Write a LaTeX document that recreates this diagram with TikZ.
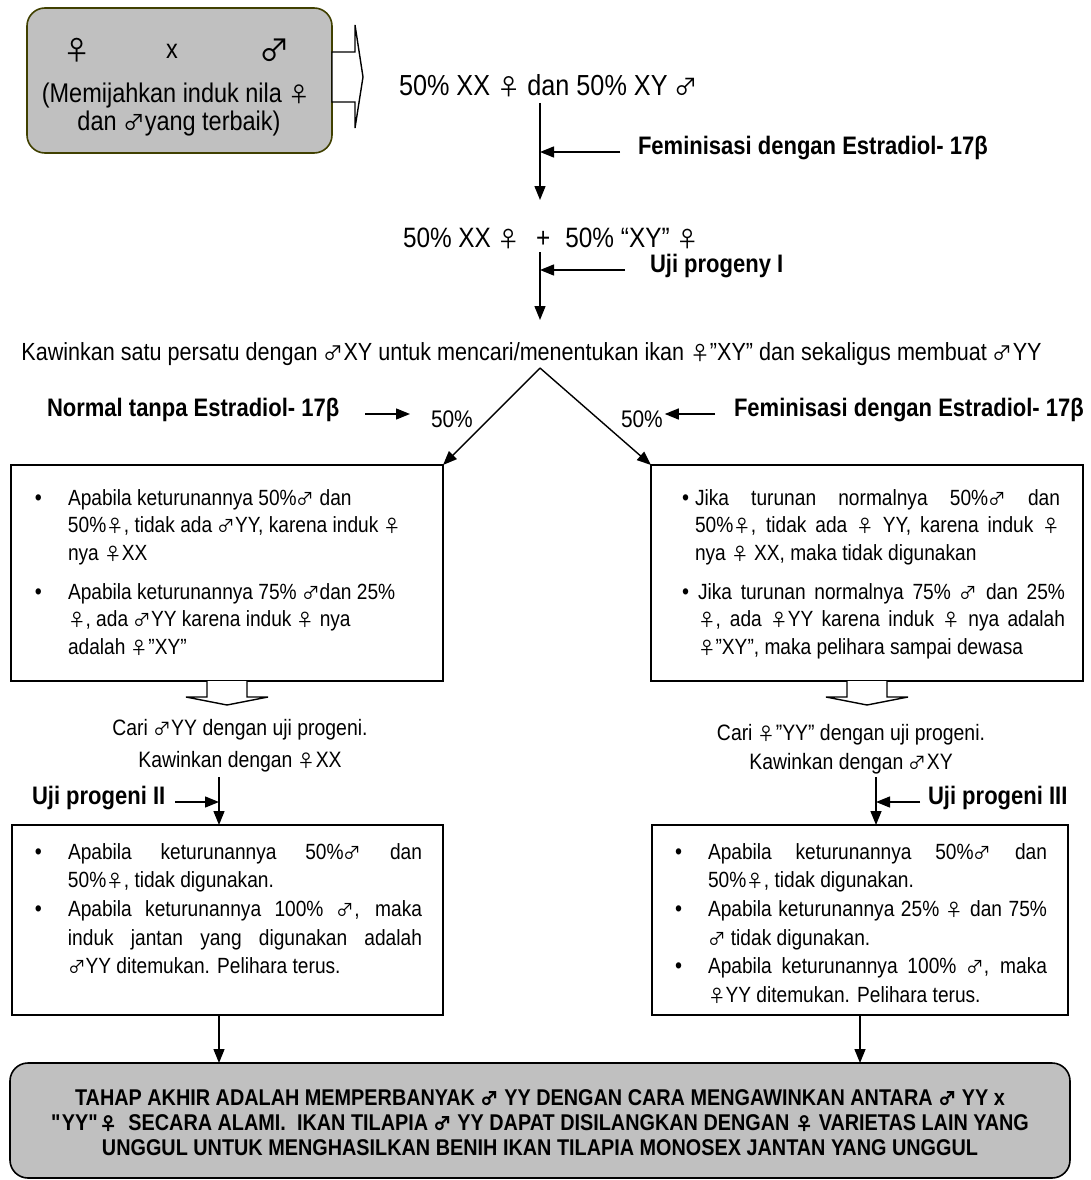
\documentclass[tikz,border=0pt]{standalone}
\usepackage{fontspec}
\setmainfont{Liberation Sans}[FakeStretch=0.87]
\newfontfamily\symf{Noto Sans CJK SC}[Scale=0.8]
\usetikzlibrary{arrows.meta,calc}
\newcommand{\fe}{{\symf ♀}}
\newcommand{\ma}{{\symf ♂}}
\newcommand{\sq}{\XeTeXglyph\XeTeXcharglyph"22\relax}
\newcommand{\jl}[1]{\makebox[\hsize][s]{\spaceskip=0pt\xspaceskip=0pt #1}}
\newcommand{\bul}[1]{\leavevmode\llap{{\fontsize{23}{23}\selectfont •}\hspace{#1}}}
\definecolor{boxgray}{RGB}{192,192,192}
\definecolor{olivedark}{RGB}{64,64,0}
\begin{document}
\begin{tikzpicture}[x=1pt,y=-1pt,
  every node/.style={inner sep=0pt, outer sep=0pt},
  frame/.style={draw=black, line width=1.6pt},
  big/.style={font=\fontsize{28}{30}\selectfont},
  lbl/.style={font=\bfseries\fontsize{25.3}{28}\selectfont},
  body/.style={font=\fontsize{22}{27.5}\selectfont, align=justify},
  cari/.style={font=\fontsize{22.3}{26}\selectfont},
  fin/.style={font=\bfseries\fontsize{22.8}{25}\selectfont, anchor=base},
  arr/.style={line width=1.4pt, -{Triangle[length=14pt,width=11pt]}},
  hollow/.style={draw=black, fill=white, line width=1.4pt, line join=miter},
]
\useasboundingbox (0,0) rectangle (1090,1180);

% ---------- top box ----------
\node[frame, draw=olivedark, fill=boxgray, rounded corners=18pt,
      minimum width=305pt, minimum height=145pt] (top) at (179.5,80.5) {};
\node[font=\fontsize{34}{34}\selectfont, anchor=base] (tfe) at (77,61) {\fe};
\node[font=\fontsize{27}{28}\selectfont, anchor=base] (tx) at (172,59) {x};
\node[font=\fontsize{38}{38}\selectfont, anchor=base] (tma) at (275,62) {\ma};
\node[font=\fontsize{27}{28}\selectfont, anchor=base] (tl2) at (176,103) {(Memijahkan induk nila \fe};
\node[font=\fontsize{27}{28}\selectfont, anchor=base] (tl3) at (179,131) {dan \ma yang terbaik)};
\draw[hollow] (top.east |- 0,52) -- (355,52) -- (355,25) -- (363,77) -- (355,128)
   -- (355,102) -- (top.east |- 0,102) -- cycle;

% ---------- central column ----------
\coordinate (mx) at (540,0);
\node[font=\fontsize{29}{30}\selectfont, anchor=base west] (t1) at (399,96) {50\% XX \fe{} dan 50\% XY \ma};
\coordinate (a1s) at (540,103);
\coordinate (a1e) at (540,200);
\draw[arr] (a1s) -- (a1e);
\node[lbl, anchor=mid west] (l1) at (638,152) {Feminisasi dengan Estradiol- 17β};
\draw[arr] ([xshift=-18pt]l1.mid west) -- (l1.mid west -| mx);

\node[big, anchor=base west] (t2) at (403,247) {50\% XX \fe\hspace{16pt}+\hspace{15pt}50\% “XY” \fe};
\coordinate (a2s) at (540,252);
\coordinate (a2e) at (540,320);
\draw[arr] (a2s) -- (a2e);
\node[lbl, anchor=mid west] (l2) at (650,270) {Uji progeny I};
\draw[arr] ([xshift=-25pt]l2.mid west) -- (l2.mid west -| mx);

\node[font=\fontsize{24.8}{28}\selectfont, anchor=base] (t3) at (531.5,360) {Kawinkan satu persatu dengan \ma XY untuk mencari/menentukan ikan \fe”XY” dan sekaligus membuat \ma YY};

% ---------- branches ----------
\coordinate (apex) at (540,368);
\node[frame, minimum width=432pt, minimum height=216pt] (b1) at (227,573) {};
\node[frame, minimum width=432pt, minimum height=216pt] (b2) at (867,573) {};
\draw[arr] (apex) -- (b1.north east);
\draw[arr] (apex) -- (b2.north west);

\node[lbl, anchor=mid west] (l3) at (47,414) {Normal tanpa Estradiol- 17β};
\node[font=\fontsize{24}{26}\selectfont, anchor=base west] (p1) at (431,427) {50\%};
\draw[arr] ([xshift=26pt]l3.mid east) -- ($(p1.west |- l3.mid east)+(-21,0)$);

\node[lbl, anchor=mid west] (l4) at (734,414) {Feminisasi dengan Estradiol- 17β};
\node[font=\fontsize{24}{26}\selectfont, anchor=base west] (p2) at (621,427) {50\%};
\draw[arr] ([xshift=-19pt]l4.mid west) -- ($(p2.east |- l4.mid west)+(2,0)$);

% upper-left box text
\node[body, text width=370pt, anchor=base west] (b1a) at (68,505) {\bul{26pt}Apabila keturunannya 50\%\ma{} dan\\
50\%\fe, tidak ada \ma YY, karena induk \fe\\
nya \fe XX};
\node[body, text width=370pt, anchor=base west] (b1b) at (68,599) {\bul{26pt}Apabila keturunannya 75\% \ma dan 25\%\\
\fe, ada \ma YY karena induk \fe{} nya\\
adalah \fe”XY”};

% upper-right box text
\node[body, text width=365pt, anchor=base west] (b2a) at (695,505) {\bul{6pt}\jl{Jika turunan normalnya 50\%\ma{} dan}\\
\jl{50\%\fe, tidak ada \fe{} YY, karena induk \fe}\\
nya \fe{} XX, maka tidak digunakan};
\node[body, text width=367pt, anchor=base west] (b2b) at (698,599) {\bul{9pt}\jl{Jika turunan normalnya 75\% \ma{} dan 25\%}\\
\jl{\fe, ada \fe YY karena induk \fe{} nya adalah}\\
\fe”XY”, maka pelihara sampai dewasa};

% hollow arrows
\draw[hollow] ($(b1.south)+(-20,0)$) -- ++(0,16) -- ++(-21,0) -- ($(b1.south)+(0,24)$)
   -- ($(b1.south)+(41,16)$) -- ++(-21,0) -- ++(0,-16);
\draw[hollow] ($(b2.south)+(-20,0)$) -- ++(0,16) -- ++(-21,0) -- ($(b2.south)+(0,24)$)
   -- ($(b2.south)+(41,16)$) -- ++(-21,0) -- ++(0,-16);

\node[cari, anchor=base] (c1) at (240,735) {Cari \ma YY dengan uji progeni.};
\node[cari, anchor=base] (c2) at (240,767) {Kawinkan dengan \fe XX};
\node[cari, anchor=base] (c3) at (851,740) {Cari \fe”YY” dengan uji progeni.};
\node[cari, anchor=base] (c4) at (851,769) {Kawinkan dengan \ma XY};

\node[frame, minimum width=431pt, minimum height=190pt] (b3) at (227.5,920) {};
\node[frame, minimum width=416pt, minimum height=190pt] (b4) at (860,920) {};

\coordinate (cl) at (219,777);
\coordinate (cr) at (876,777);
\draw[arr] (cl) -- (b3.north -| cl);
\draw[arr] (cr) -- (b4.north -| cr);
\node[lbl, anchor=mid west] (u2) at (32,802) {Uji progeni II};
\draw[arr] ([xshift=10pt]u2.mid east) -- (u2.mid east -| cl);
\node[lbl, anchor=mid west] (u3) at (928,802) {Uji progeni III};
\draw[arr] ([xshift=-8pt]u3.mid west) -- (u3.mid west -| cr);

% lower boxes text
\node[body, font=\fontsize{22}{28.7}\selectfont, text width=354pt, anchor=base west] (b3t) at (68,859) {\bul{26pt}\jl{Apabila keturunannya 50\%\ma{} dan}\\
50\%\fe, tidak digunakan.\\
\bul{26pt}\jl{Apabila keturunannya 100\% \ma, maka}\\
\jl{induk jantan yang digunakan adalah}\\
\ma YY ditemukan. Pelihara terus.};
\node[body, font=\fontsize{22}{28.7}\selectfont, text width=339pt, anchor=base west] (b4t) at (708,859) {\bul{26pt}\jl{Apabila keturunannya 50\%\ma{} dan}\\
50\%\fe, tidak digunakan.\\
\bul{26pt}\jl{Apabila keturunannya 25\% \fe{} dan 75\%}\\
\ma{} tidak digunakan.\\
\bul{26pt}\jl{Apabila keturunannya 100\% \ma, maka}\\
\fe YY ditemukan. Pelihara terus.};

% ---------- bottom box ----------
\node[frame, fill=boxgray, rounded corners=18pt, minimum width=1060pt, minimum height=115pt] (b5) at (540,1120.5) {};
\draw[arr] (b3.south -| cl) -- (b5.north -| cl);
\draw[arr] (b4.south) -- (b4.south |- b5.north);
\node[fin] (f1) at (540,1105) {TAHAP AKHIR ADALAH MEMPERBANYAK \ma{} YY DENGAN CARA MENGAWINKAN ANTARA \ma{}\ YY x};
\node[fin] (f2) at (540,1130) {\sq YY\sq\fe{}\ \ SECARA ALAMI.\ \ IKAN TILAPIA \ma{}\ YY DAPAT DISILANGKAN DENGAN \fe{} VARIETAS LAIN YANG};
\node[fin] (f3) at (540,1155) {UNGGUL UNTUK MENGHASILKAN BENIH IKAN TILAPIA MONOSEX JANTAN YANG UNGGUL};
\end{tikzpicture}
\end{document}
